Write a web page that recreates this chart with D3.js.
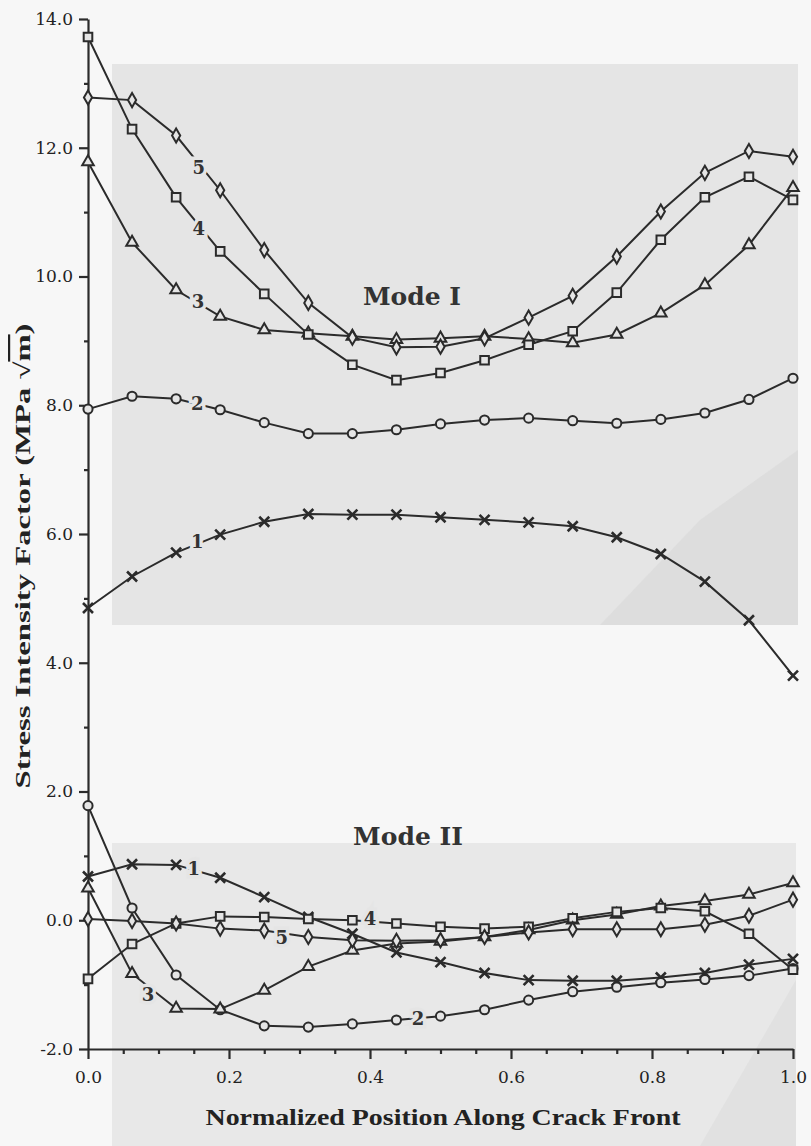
<!DOCTYPE html>
<html lang="en">
<head>
<meta charset="UTF-8">
<title>Stress Intensity Factor along Crack Front</title>
<script src="https://d3js.org/d3.v7.min.js"></script>
<style>
  body { margin: 0; background: #f7f7f7; }
  svg { display: block; }
  .tick text { font-family: "DejaVu Serif", serif; font-size: 17px; fill: #222; }
</style>
</head>
<body>
<svg width="811" height="1146"></svg>
<script>
// positions along the crack front (17 stations)
var position = [0, 0.0625, 0.125, 0.1875, 0.25, 0.3125, 0.375, 0.4375, 0.5,
                0.5625, 0.625, 0.6875, 0.75, 0.8125, 0.875, 0.9375, 1.0];

// Mode I values per curve
var modeI_1 = [4.85, 5.34, 5.71, 5.99, 6.19, 6.31, 6.30, 6.30, 6.26, 6.22, 6.18, 6.12, 5.95, 5.69, 5.26, 4.66, 3.80];
var modeI_2 = [7.94, 8.14, 8.10, 7.93, 7.73, 7.56, 7.56, 7.62, 7.71, 7.77, 7.80, 7.76, 7.72, 7.78, 7.88, 8.09, 8.42];
var modeI_3 = [11.78, 10.53, 9.79, 9.38, 9.17, 9.12, 9.07, 9.02, 9.04, 9.07, 9.03, 8.97, 9.10, 9.43, 9.87, 10.49, 11.38];
var modeI_4 = [13.72, 12.29, 11.23, 10.39, 9.73, 9.10, 8.63, 8.39, 8.50, 8.70, 8.94, 9.15, 9.75, 10.57, 11.23, 11.55, 11.19];
var modeI_5 = [12.78, 12.74, 12.19, 11.34, 10.41, 9.59, 9.05, 8.90, 8.91, 9.04, 9.36, 9.70, 10.31, 11.01, 11.61, 11.95, 11.86];

// Mode II values per curve
var modeII_1 = [0.68, 0.87, 0.86, 0.66, 0.36, 0.05, -0.21, -0.50, -0.65, -0.82, -0.93, -0.94, -0.94, -0.89, -0.82, -0.69, -0.60];
var modeII_2 = [1.78, 0.19, -0.85, -1.39, -1.64, -1.66, -1.61, -1.55, -1.49, -1.39, -1.24, -1.11, -1.04, -0.97, -0.92, -0.86, -0.75];
var modeII_3 = [0.50, -0.83, -1.37, -1.38, -1.09, -0.72, -0.47, -0.36, -0.33, -0.26, -0.15, 0.00, 0.09, 0.22, 0.30, 0.40, 0.58];
var modeII_4 = [-0.91, -0.37, -0.05, 0.06, 0.05, 0.02, 0.00, -0.05, -0.10, -0.13, -0.10, 0.03, 0.13, 0.19, 0.14, -0.21, -0.77];
var modeII_5 = [0.02, -0.01, -0.05, -0.13, -0.16, -0.26, -0.31, -0.32, -0.31, -0.26, -0.19, -0.14, -0.14, -0.14, -0.07, 0.07, 0.32];

var curveNames = ["1", "2", "3", "4", "5"];
var curveShapes = ["x", "circle", "triangle", "square", "diamond"];

// curve number labels: [text, position, value]
var labelsModeI = [["5", 0.157, 11.69], ["4", 0.157, 10.75], ["3", 0.156, 9.61], ["2", 0.155, 8.02], ["1", 0.155, 5.89]];
var labelsModeII = [["1", 0.150, 0.80], ["4", 0.400, 0.03], ["5", 0.275, -0.27], ["3", 0.085, -1.16], ["2", 0.468, -1.53]];

var xTicks = [0, 0.2, 0.4, 0.6, 0.8, 1.0];
var xMinor = [0.05, 0.1, 0.15, 0.25, 0.3, 0.35, 0.45, 0.5, 0.55, 0.65, 0.7, 0.75, 0.85, 0.9, 0.95];
var yTicks = [-2, 0, 2, 4, 6, 8, 10, 12, 14];
var yMinor = [-1, 1, 3, 5, 7, 9, 11, 13];

var svg = d3.select("svg");
var x = d3.scaleLinear().domain([0, 1]).range([88, 793]);
var y = d3.scaleLinear().domain([-2, 14]).range([1049, 19]);

var panel = "#e5e5e5";
var ink = "#2b2b2b";
// plain hyphen for negative labels, like the printed figure
var fmt = function(d) { return d3.format(".1f")(d).replace("\u2212", "-"); };

// scanned backdrop panels
svg.append("rect").attr("x", 112).attr("y", 64).attr("width", 686).attr("height", 561).attr("fill", panel);
svg.append("path").attr("d", "M600,625 L700,520 L798,450 L798,625 Z").attr("fill", "#dadada").attr("opacity", 0.7);
svg.append("rect").attr("x", 112).attr("y", 843).attr("width", 684).attr("height", 303).attr("fill", "#e8e8e8");
svg.append("path").attr("d", "M700,1146 L796,980 L796,1146 Z").attr("fill", "#dcdcdc").attr("opacity", 0.6);

// axes
svg.append("g").attr("transform", "translate(0,1049)")
  .call(d3.axisBottom(x).tickValues(xTicks).tickSize(10).tickSizeOuter(0).tickPadding(12).tickFormat(fmt));
svg.append("g").attr("transform", "translate(0,1049)")
  .call(d3.axisBottom(x).tickValues(xMinor).tickSize(5).tickSizeOuter(0).tickFormat(""))
  .select(".domain").remove();
svg.append("g").attr("transform", "translate(88,0)")
  .call(d3.axisLeft(y).tickValues(yTicks).tickSize(9).tickSizeOuter(0).tickPadding(6).tickFormat(fmt));
svg.append("g").attr("transform", "translate(88,0)")
  .call(d3.axisLeft(y).tickValues(yMinor).tickSize(4).tickSizeOuter(0).tickFormat(""))
  .select(".domain").remove();
svg.selectAll(".domain, .tick line").attr("stroke", ink).attr("stroke-width", 2.2);

// axis titles
svg.append("text")
  .attr("x", 443).attr("y", 1125).attr("text-anchor", "middle")
  .attr("textLength", 475).attr("lengthAdjust", "spacingAndGlyphs")
  .style("font-family", "'Liberation Serif', serif").style("font-weight", "bold")
  .style("font-size", "24px").attr("fill", "#222")
  .text("Normalized Position Along Crack Front");

var yTitle = svg.append("text")
  .attr("transform", "translate(30,556) rotate(-90)").attr("text-anchor", "middle")
  .attr("textLength", 465).attr("lengthAdjust", "spacingAndGlyphs")
  .style("font-family", "'Liberation Serif', serif").style("font-weight", "bold")
  .style("font-size", "22px").attr("fill", "#222");
yTitle.append("tspan").text("Stress Intensity Factor (MPa \u221A");
yTitle.append("tspan").style("text-decoration", "overline").text("m");
yTitle.append("tspan").text(")");

// mode titles
svg.append("text").attr("x", 412).attr("y", 305).attr("text-anchor", "middle")
  .style("font-family", "'DejaVu Serif', serif").style("font-weight", "bold")
  .style("font-size", "25px").attr("fill", "#333").text("Mode I");
svg.append("text").attr("x", 408).attr("y", 845).attr("text-anchor", "middle")
  .style("font-family", "'DejaVu Serif', serif").style("font-weight", "bold")
  .style("font-size", "25px").attr("fill", "#333").text("Mode II");

var line = d3.line().x(function(d) { return x(d[0]); }).y(function(d) { return y(d[1]); });

function marker(shape) {
  if (shape === "x") return "M-5,-5L5,5M-5,5L5,-5";
  var t = { circle: d3.symbolCircle, triangle: d3.symbolTriangle, square: d3.symbolSquare, diamond: d3.symbolDiamond }[shape];
  var s = { circle: 66, triangle: 58, square: 74, diamond: 58 }[shape];
  return d3.symbol().type(t).size(s)();
}

function drawCurves(sets) {
  sets.forEach(function(values, k) {
    var pts = position.map(function(p, i) { return [p, values[i]]; });
    svg.append("path").datum(pts).attr("d", line)
      .attr("fill", "none").attr("stroke", ink).attr("stroke-width", 2);
    svg.append("g").selectAll("path").data(pts).enter().append("path")
      .attr("transform", function(d) { return "translate(" + x(d[0]) + "," + y(d[1]) + ")"; })
      .attr("d", marker(curveShapes[k]))
      .attr("fill", curveShapes[k] === "x" ? "none" : panel)
      .attr("stroke", ink).attr("stroke-width", curveShapes[k] === "x" ? 2.6 : 2);
  });
}

drawCurves([modeI_1, modeI_2, modeI_3, modeI_4, modeI_5]);
drawCurves([modeII_1, modeII_2, modeII_3, modeII_4, modeII_5]);

// curve numbers sitting on the lines
function drawLabels(list) {
  svg.append("g").selectAll("text").data(list).enter().append("text")
    .attr("x", function(d) { return x(d[1]); })
    .attr("y", function(d) { return y(d[2]); })
    .attr("dy", "0.36em").attr("text-anchor", "middle")
    .style("font-family", "'DejaVu Serif', serif").style("font-weight", "bold")
    .style("font-size", "18px").style("paint-order", "stroke")
    .attr("stroke", panel).attr("stroke-width", 7).attr("fill", "#333")
    .text(function(d) { return d[0]; });
}
drawLabels(labelsModeI);
drawLabels(labelsModeII);
</script>
</body>
</html>
